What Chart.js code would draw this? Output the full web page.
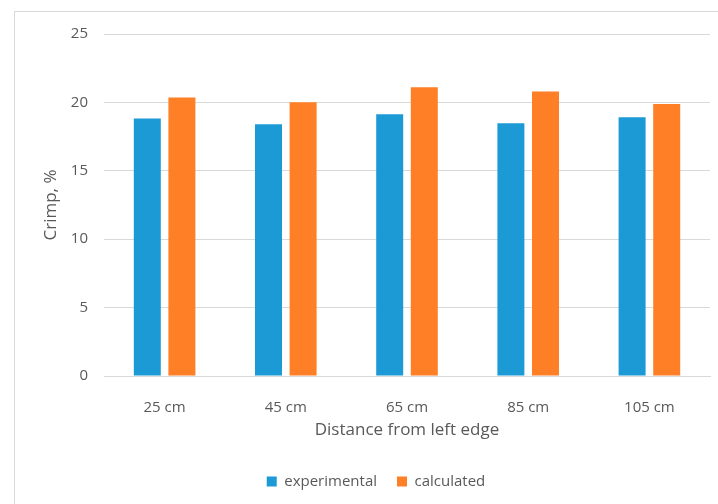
<!DOCTYPE html>
<html>
<head>
<meta charset="utf-8">
<script src="https://cdn.jsdelivr.net/npm/chart.js@4"></script>
<style>
  html, body { margin: 0; padding: 0; background: #fff; overflow: hidden; }
</style>
</head>
<body>
<canvas id="chart" width="718" height="504"></canvas>
<script>
// ---------- data ----------
const categories   = ['25 cm', '45 cm', '65 cm', '85 cm', '105 cm'];
const experimental = [18.82, 18.40, 19.13, 18.47, 18.91];
const calculated   = [20.35, 20.02, 21.10, 20.79, 19.88];
const yTicks       = [0, 5, 10, 15, 20, 25];

const grey = '#595959', line = '#d9d9d9';
Chart.defaults.font.family = '"Open Sans", sans-serif';
Chart.defaults.color = grey;

// light frame round the chart, like the spreadsheet export
const frame = {
  id: 'frame',
  beforeDraw(c) {
    const ctx = c.ctx;
    ctx.save();
    ctx.fillStyle = '#fff';
    ctx.fillRect(0, 0, c.width, c.height);
    ctx.strokeStyle = line;
    ctx.lineWidth = 1;
    ctx.strokeRect(14.5, 11.5, 800, 700);
    ctx.restore();
  }
};

// legend sits a bit right of the plot centre in the original
const shiftLegend = {
  id: 'shiftLegend',
  afterLayout(c) { c.legend.left += 21; c.legend.right += 21; }
};

new Chart(document.getElementById('chart'), {
  type: 'bar',
  data: {
    labels: categories,
    datasets: [
      { label: 'experimental', data: experimental, backgroundColor: '#1b9ad6',
        barPercentage: 0.78, categoryPercentage: 0.571 },
      { label: 'calculated',   data: calculated,   backgroundColor: '#fe7f26',
        barPercentage: 0.78, categoryPercentage: 0.571 }
    ]
  },
  options: {
    responsive: false,
    animation: false,
    layout: { padding: { top: 34, right: 8, bottom: 5, left: 0 } },
    scales: {
      x: {
        grid: { display: false },
        border: { display: true, color: line },
        ticks: { padding: 15, font: { size: 15 }, color: grey },
        title: { display: true, text: 'Distance from left edge', color: grey,
                 font: { size: 17 }, padding: { top: 0, bottom: 14 } },
        afterFit: s => { s.height = 78; }
      },
      y: {
        min: 0, max: 25,
        afterBuildTicks: s => { s.ticks = yTicks.map(v => ({ value: v })); },
        grid: { color: line, drawTicks: false },
        border: { display: false },
        ticks: { padding: 16, font: { size: 15 }, color: grey },
        title: { display: true, text: 'Crimp, %', color: grey,
                 font: { size: 17 }, padding: { top: 41, bottom: 0 } },
        afterFit: s => { s.width = 104; }
      }
    },
    plugins: {
      legend: {
        position: 'bottom',
        labels: { boxWidth: 10, boxHeight: 10, padding: 20, color: grey, font: { size: 15 } }
      },
      tooltip: { enabled: false }
    }
  },
  plugins: [frame, shiftLegend]
});
</script>
</body>
</html>
